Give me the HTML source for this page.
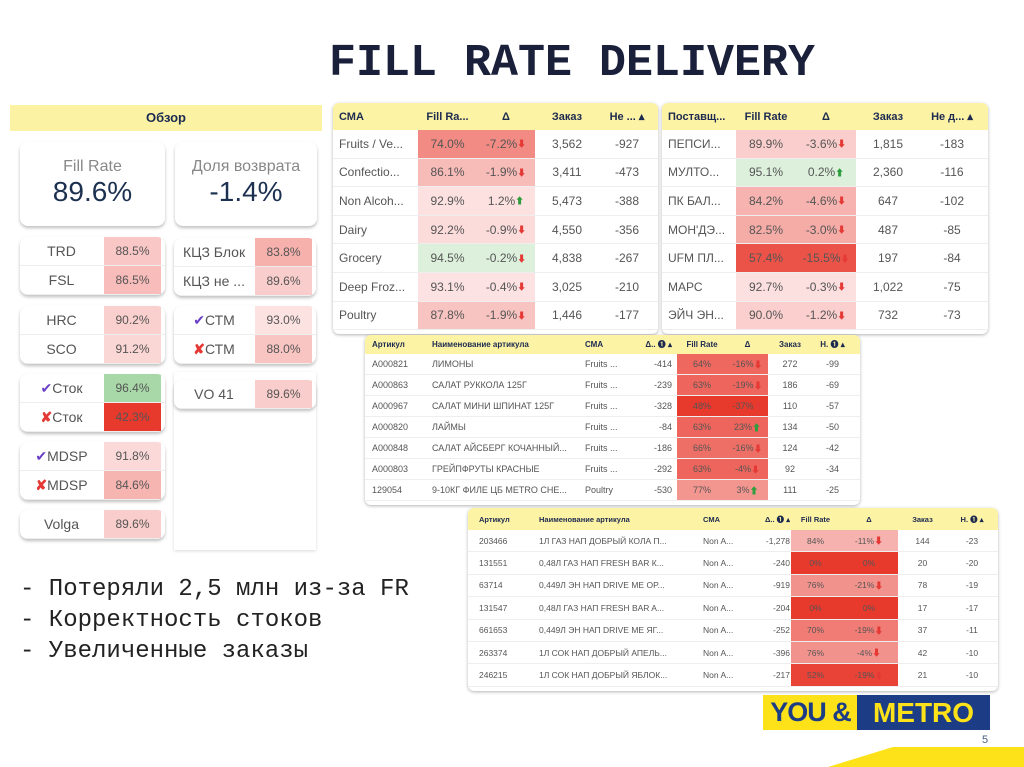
<!DOCTYPE html>
<html><head><meta charset="utf-8">
<style>
*{box-sizing:border-box;margin:0;padding:0}
body{width:1024px;height:767px;background:#fff;position:relative;overflow:hidden;font-family:"Liberation Sans","Noto Sans CJK SC",sans-serif;color:#444}
.abs{position:absolute}
#title{left:0;width:1144px;top:38px;text-align:center;font:bold 45px "Liberation Mono",monospace;color:#1a1f3a;letter-spacing:0px}
.card{position:absolute;background:#fff;border-radius:8px;box-shadow:0 2px 3px rgba(0,0,0,.25);overflow:hidden}
.row{position:absolute;left:0;right:0;border-bottom:1px solid #eee;font-size:13px;color:#555}
.cell{position:absolute;top:0;bottom:0;display:flex;align-items:center;justify-content:center}
.tbl{position:absolute;background:#fff;border-radius:6px;box-shadow:0 1px 3px rgba(0,0,0,.3);overflow:hidden}
.hdr{position:absolute;left:0;right:0;top:0;background:#fdf3a5;font-weight:bold;color:#1c2a50}
.tc{position:absolute;top:0;bottom:0;display:flex;align-items:center;white-space:nowrap;overflow:hidden}
.bul{font:24px "Liberation Mono","Noto Sans CJK SC",monospace;color:#222}
</style></head><body>
<div id="title" class="abs">FILL RATE DELIVERY</div>

<div class="abs" style="left:10px;top:103px;width:312px;height:447px;background:#fff">
 <div class="abs" style="left:0;top:2px;width:312px;height:26px;background:#fbf3a3;text-align:center;font:bold 13px 'Liberation Sans',sans-serif;line-height:26px;color:#1c2a50">Обзор</div>
</div>
<div class="card" style="left:20px;top:142px;width:145px;height:84px;text-align:center">
 <div style="margin-top:16px;font-size:16px;color:#888">Fill Rate</div><div style="font-size:28px;color:#1c3050">89.6%</div></div>
<div class="card" style="left:175px;top:142px;width:142px;height:84px;text-align:center">
 <div style="margin-top:16px;font-size:16px;color:#888">Доля возврата</div><div style="font-size:28px;color:#1c3050">-1.4%</div></div>
<div class="abs" style="left:174px;top:372px;width:142px;height:178px;background:#fff;box-shadow:0 1px 3px rgba(0,0,0,.15)"></div>
<div id="cards"></div>

<div class="abs bul" style="left:20px;top:576px">- Потеряли 2,5 млн из-за FR</div>
<div class="abs bul" style="left:20px;top:607px">- Корректность стоков</div>
<div class="abs bul" style="left:20px;top:638px">- Увеличенные заказы</div>

<div class="abs" style="left:763px;top:695px;width:95px;height:35px;background:#fde21a;color:#1c3c86;font:bold 27px 'Liberation Sans',sans-serif;line-height:35px;text-align:center;letter-spacing:-1px">YOU &amp;</div>
<div class="abs" style="left:857px;top:695px;width:133px;height:35px;background:#1c3c86;color:#fde21a;font:bold 28px 'Liberation Sans',sans-serif;line-height:35px;text-align:center">METRO</div>
<div class="abs" style="left:982px;top:734px;font-size:11px;color:#4a6080">5</div>
<svg class="abs" style="left:0;top:0" width="1024" height="767"><polygon points="828,767 893,747 1024,747 1024,767" fill="#fde21a"/></svg>

<script>
function heat(v){
  if(v>=94) return '#dcf0dc';
  var t=Math.min(1,Math.max(0,(94-v)/45));t=Math.pow(t,0.75);
  var a=[253,236,236],b=[232,57,45];
  return 'rgb('+a.map(function(x,i){return Math.round(x+(b[i]-x)*t)}).join(',')+')';
}
function arrow(d){
  if(d===null) return '';
  return d<0?' <span style="color:#e53935;font-size:9px">&#11015;</span>':' <span style="color:#2e9e3e;font-size:9px">&#11014;</span>';
}
var cardLabels=[['TRD','FSL'],['HRC','SCO'],['✔ Сток','✘ Сток'],['✔ MDSP','✘ MDSP'],['Volga'],['КЦЗ Блок','КЦЗ не ...'],['✔ СТМ','✘ СТМ'],['VO     41']];
var cardValues=[[88.5,86.5],[90.2,91.2],[96.4,42.3],[91.8,84.6],[89.6],[83.8,89.6],[93.0,88.0],[89.6]];
var cardBoxes=[[20,237,145],[20,306,145],[20,374,145],[20,442,145],[20,510,145],[174,238,142],[174,306,142],[174,380,142]];
var cont=document.getElementById('cards');
cardLabels.forEach(function(labs,i){
  var b=cardBoxes[i];var c=document.createElement('div');
  c.className='card';c.style.left=b[0]+'px';c.style.top=b[1]+'px';c.style.width=b[2]+'px';c.style.height=(labs.length*29)+'px';
  
  
  labs.forEach(function(l,j){
    var r=document.createElement('div');r.className='row';r.style.top=(j*29)+'px';r.style.height='29px';
    
    
    var lab=l.replace('✔','<span style="color:#6a3fc8">✔</span>').replace('✘','<span style="color:#e53935;font-weight:bold">✘</span>');
    var v=cardValues[i][j];
    var bg=v>=96?'#a8d8a8':(v<50?'#e8392d':heat(v));
    r.innerHTML='<div class="cell" style="left:0;width:'+(b[2]-62)+'px;font-size:14px">'+lab+'</div><div class="cell" style="right:4px;width:57px;background:'+bg+';font-size:12px">'+v.toFixed(1)+'%</div>';
    c.appendChild(r);
  });
  cont.appendChild(c);
});
var t1Names=['Fruits / Ve...','Confectio...','Non Alcoh...','Dairy','Grocery','Deep Froz...','Poultry'];
var t1Fill=[74.0,86.1,92.9,92.2,94.5,93.1,87.8];
var t1Delta=[-7.2,-1.9,1.2,-0.9,-0.2,-0.4,-1.9];
var t1Order=[3562,3411,5473,4550,4838,3025,1446];
var t1Miss=[-927,-473,-388,-356,-267,-210,-177];
var t2Names=['ПЕПСИ...','МУЛТО...','ПК БАЛ...','МОН\'ДЭ...','UFM ПЛ...','МАРС','ЭЙЧ ЭН...'];
var t2Fill=[89.9,95.1,84.2,82.5,57.4,92.7,90.0];
var t2Delta=[-3.6,0.2,-4.6,-3.0,-15.5,-0.3,-1.2];
var t2Order=[1815,2360,647,487,197,1022,732];
var t2Miss=[-183,-116,-102,-85,-84,-75,-73];
var t3Codes=['A000821','A000863','A000967','A000820','A000848','A000803','129054'];
var t3Names=['ЛИМОНЫ','САЛАТ РУККОЛА 125Г','САЛАТ МИНИ ШПИНАТ 125Г','ЛАЙМЫ','САЛАТ АЙСБЕРГ КОЧАННЫЙ...','ГРЕЙПФРУТЫ КРАСНЫЕ','9-10КГ ФИЛЕ ЦБ METRO CHE...'];
var t3Cma=['Fruits ...','Fruits ...','Fruits ...','Fruits ...','Fruits ...','Fruits ...','Poultry'];
var t3D1=[-414,-239,-328,-84,-186,-292,-530];
var t3Fill=[64,63,48,63,66,63,77];
var t3Delta=[-16,-19,-37,23,-16,-4,3];
var t3Order=[272,186,110,134,124,92,111];
var t3Miss=[-99,-69,-57,-50,-42,-34,-25];
var t4Codes=['203466','131551','63714','131547','661653','263374','246215'];
var t4Names=['1Л ГАЗ НАП ДОБРЫЙ КОЛА П...','0,48Л ГАЗ НАП FRESH BAR К...','0,449Л ЭН НАП DRIVE ME OP...','0,48Л ГАЗ НАП FRESH BAR A...','0,449Л ЭН НАП DRIVE ME ЯГ...','1Л СОК НАП ДОБРЫЙ АПЕЛЬ...','1Л СОК НАП ДОБРЫЙ ЯБЛОК...'];
var t4D1=[-1278,-240,-919,-204,-252,-396,-217];
var t4Fill=[84,0,76,0,70,76,52];
var t4Delta=[-11,0,-21,0,-19,-4,-19];
var t4Order=[144,20,78,17,37,42,21];
var t4Miss=[-23,-20,-19,-17,-11,-10,-10];

function fmt(n){return n.toLocaleString('en-US');}
function table(name,x,y,w,hh,rh,fs,cols,headers,rows,fillIdx){
  var t=document.createElement('div');t.className='tbl';
  t.style.left=x+'px';t.style.top=y+'px';t.style.width=w+'px';t.style.height=(hh+rh*rows.length+4)+'px';
  
  
  var h=document.createElement('div');h.className='hdr';h.style.height=hh+'px';h.style.fontSize=(fs-1)+'px';
  
  
  cols.forEach(function(c,i){h.innerHTML+='<div class="tc" style="left:'+c[0]+'px;width:'+c[1]+'px;justify-content:'+c[2]+'">'+headers[i]+'</div>';});
  t.appendChild(h);
  rows.forEach(function(r,j){
    var d=document.createElement('div');d.className='row';d.style.top=(hh+j*rh)+'px';d.style.height=rh+'px';d.style.fontSize=fs+'px';
    
    
    var fv=r.fill;var bg=heat(fv);
    var fc=cols[fillIdx],dc=cols[fillIdx+1];
    d.innerHTML='<div class="tc" style="left:'+fc[0]+'px;width:'+(fc[1]+dc[1])+'px;background:'+bg+'"></div>';
    r.cells.forEach(function(v,i){d.innerHTML+='<div class="tc" style="left:'+cols[i][0]+'px;width:'+cols[i][1]+'px;justify-content:'+cols[i][2]+'">'+v+'</div>';});
    t.appendChild(d);
  });
  document.body.appendChild(t);
}
var r1=t1Names.map(function(n,i){return {fill:t1Fill[i],cells:[n,t1Fill[i].toFixed(1)+'%',t1Delta[i].toFixed(1)+'%'+arrow(t1Delta[i]),fmt(t1Order[i]),t1Miss[i]]};});
table('category-table',333,103,325,27,28.6,12,[[6,78,'flex-start'],[85,59,'center'],[144,58,'center'],[202,64,'center'],[266,56,'center']],['СМА','Fill Ra... ','Δ','Заказ','Не ...  ▴'],r1,1);
var r2=t2Names.map(function(n,i){return {fill:t2Fill[i],cells:[n,t2Fill[i].toFixed(1)+'%',t2Delta[i].toFixed(1)+'%'+arrow(t2Delta[i]),fmt(t2Order[i]),t2Miss[i]]};});
table('supplier-table',662,103,326,27,28.6,12,[[6,68,'flex-start'],[74,60,'center'],[134,60,'center'],[194,64,'center'],[258,64,'center']],['Поставщ...','Fill Rate','Δ','Заказ','Не д... ▴'],r2,1);
var r3=t3Codes.map(function(n,i){return {fill:t3Fill[i],cells:[n,t3Names[i],t3Cma[i],t3D1[i],t3Fill[i]+'%',t3Delta[i]+'%'+arrow(t3Delta[i]),t3Order[i],t3Miss[i]]};});
table('article-table-fruits',365,335,495,19,21,9,[[7,58,'flex-start'],[67,150,'flex-start'],[220,40,'flex-start'],[262,45,'flex-end'],[312,50,'center'],[362,41,'center'],[405,40,'center'],[445,45,'center']],['Артикул','Наименование артикула','СМА','Δ.. ❶ ▴','Fill Rate','Δ','Заказ','Н. ❶ ▴'],r3,4);
var r4=t4Codes.map(function(n,i){return {fill:t4Fill[i],cells:[n,t4Names[i],'Non A...',fmt(t4D1[i]),t4Fill[i]+'%',t4Delta[i]+'%'+(t4Delta[i]?arrow(t4Delta[i]):''),t4Order[i],t4Miss[i]]};});
table('article-table-drinks',468,508,530,22,22.4,8.5,[[11,60,'flex-start'],[71,162,'flex-start'],[235,42,'flex-start'],[272,50,'flex-end'],[323,49,'center'],[372,58,'center'],[432,45,'center'],[482,44,'center']],['Артикул','Наименование артикула','СМА','Δ.. ❶ ▴','Fill Rate','Δ','Заказ','Н. ❶ ▴'],r4,4);
</script>
</body></html>
